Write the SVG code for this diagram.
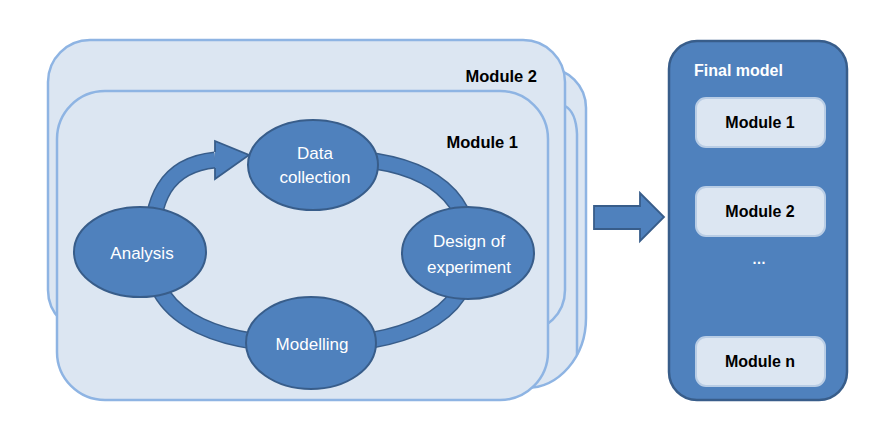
<svg xmlns="http://www.w3.org/2000/svg" width="889" height="448" viewBox="0 0 889 448">
<style>
.panel{fill:#dce6f2;stroke:#8eb4e3;stroke-width:2.5}
.pline{fill:none;stroke:#8eb4e3;stroke-width:2.5}
.node{fill:#4f81bd;stroke:#385d8a;stroke-width:2}
.lbl{font-family:"Liberation Sans",Arial,sans-serif;font-size:17px;fill:#ffffff;text-anchor:middle}
.title{font-family:"Liberation Sans",Arial,sans-serif;font-size:16.5px;font-weight:bold;fill:#000000;text-anchor:end}
.mod{fill:#dce6f2;stroke:#b9cde5;stroke-width:2}
.modt{font-family:"Liberation Sans",Arial,sans-serif;font-size:16px;font-weight:bold;fill:#000000;text-anchor:middle}
.ringo{fill:none;stroke:#385d8a;stroke-width:17}
.ringi{fill:none;stroke:#4f81bd;stroke-width:14}
</style>
<rect width="889" height="448" fill="#ffffff"/>
<g id="panel-back">
<path d="M115,68 H546 A40,40 0 0 1 586,108 V318 A60,70 0 0 1 526,388 H115 A45,45 0 0 1 70,343 V113 A45,45 0 0 1 115,68 Z" class="panel"/>
<path d="M565,106 Q576,112 577,134 L577,355" class="pline"/>
</g>
<g id="panel-module2">
<rect x="48" y="40" width="517" height="292" rx="42" class="panel"/>
<text x="537" y="82" class="title">Module 2</text>
</g>
<g id="panel-module1">
<rect x="57" y="91" width="491" height="309" rx="48" class="panel"/>
<text x="518" y="148" class="title">Module 1</text>
</g>
<g id="connectors">
<g id="cycle">
<path d="M330,158 C420,158 470,190 470,252 C470,320 400,345 308,345 C230,345 151,325 151,252 C151,200 165,165 215,160" class="ringo"/>
<path d="M330,158 C420,158 470,190 470,252 C470,320 400,345 308,345 C230,345 151,325 151,252 C151,200 165,165 215,160" class="ringi"/>
<polygon points="215,141 249,155 215,179" fill="#4f81bd"/>
<polyline points="215,152 215,141 249,155 215,179 215,168" fill="none" stroke="#385d8a" stroke-width="1.8" stroke-linejoin="miter"/>
</g>
<polygon id="to-final" points="594,206 640,206 640,193 664,217 640,241 640,229 594,229" fill="#4f81bd" stroke="#385d8a" stroke-width="1.8"/>
</g>
<g id="node-data">
<ellipse cx="313" cy="165" rx="65" ry="45" class="node"/>
<text x="315" y="159" class="lbl">Data</text>
<text x="315" y="183" class="lbl">collection</text>
</g>
<g id="node-analysis">
<ellipse cx="140" cy="252" rx="66" ry="45" class="node"/>
<text x="142" y="259" class="lbl">Analysis</text>
</g>
<g id="node-design">
<ellipse cx="468" cy="253" rx="66" ry="46" class="node"/>
<text x="469" y="247" class="lbl">Design of</text>
<text x="469" y="273" class="lbl">experiment</text>
</g>
<g id="node-modelling">
<ellipse cx="311" cy="343" rx="65" ry="46" class="node"/>
<text x="312" y="350" class="lbl">Modelling</text>
</g>
<g id="node-final">
<rect x="669" y="41" width="178" height="359" rx="28" fill="#4f81bd" stroke="#385d8a" stroke-width="2.5"/>
<text x="694" y="76" font-family="Liberation Sans, Arial, sans-serif" font-size="16" font-weight="bold" fill="#ffffff">Final model</text>
<g id="final-m1">
<rect x="696" y="98" width="129" height="49" rx="10" class="mod"/>
<text x="760" y="128" class="modt">Module 1</text>
</g>
<g id="final-m2">
<rect x="696" y="187" width="129" height="49" rx="10" class="mod"/>
<text x="760" y="217" class="modt">Module 2</text>
</g>
<text x="759" y="264" class="modt" style="fill:#ffffff;font-size:14px">…</text>
<g id="final-mn">
<rect x="696" y="337" width="129" height="49" rx="10" class="mod"/>
<text x="760" y="367" class="modt">Module n</text>
</g>
</g>
</svg>
